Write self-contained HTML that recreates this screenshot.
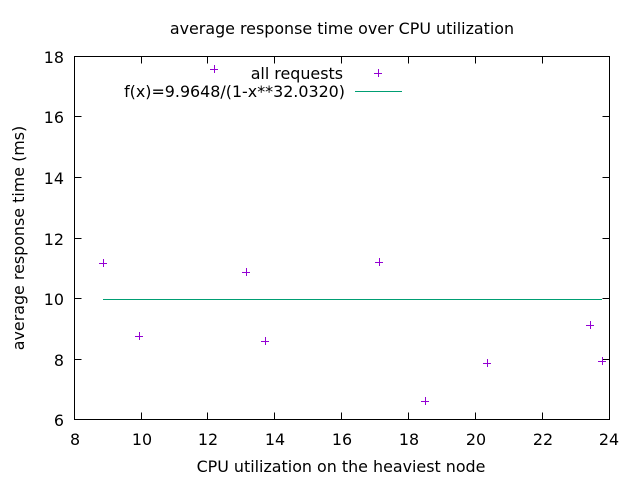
<!DOCTYPE html>
<html><head><meta charset="utf-8"><style>
html,body{margin:0;padding:0;background:#fff;}
svg{display:block;}
text{font-family:"DejaVu Sans","Liberation Sans",sans-serif;font-size:15.9px;fill:#000;}
</style></head><body>
<svg width="640" height="480" viewBox="0 0 640 480" xmlns="http://www.w3.org/2000/svg">
<rect width="640" height="480" fill="#fff"/>
<g stroke="#000" stroke-width="1" fill="none" shape-rendering="crispEdges">
<path d="M74.5,56.5h7M609.5,56.5h-7 M74.5,116.5h7M609.5,116.5h-7 M74.5,177.5h7M609.5,177.5h-7 M74.5,238.5h7M609.5,238.5h-7 M74.5,298.5h7M609.5,298.5h-7 M74.5,359.5h7M609.5,359.5h-7"/>
<path d="M141.5,419.5v-7M141.5,56.5v7 M207.5,419.5v-7M207.5,56.5v7 M274.5,419.5v-7M274.5,56.5v7 M341.5,419.5v-7M341.5,56.5v7 M408.5,419.5v-7M408.5,56.5v7 M475.5,419.5v-7M475.5,56.5v7 M542.5,419.5v-7M542.5,56.5v7"/>
<rect x="74.5" y="56.5" width="535" height="363"/>
</g>
<g text-anchor="end">
<text x="64" y="63">18</text>
<text x="64" y="123">16</text>
<text x="64" y="184">14</text>
<text x="64" y="245">12</text>
<text x="64" y="305">10</text>
<text x="64" y="366">8</text>
<text x="64" y="426">6</text>
</g>
<g text-anchor="middle">
<text x="75" y="445">8</text>
<text x="142" y="445">10</text>
<text x="208" y="445">12</text>
<text x="275" y="445">14</text>
<text x="342" y="445">16</text>
<text x="409" y="445">18</text>
<text x="476" y="445">20</text>
<text x="543" y="445">22</text>
<text x="609" y="445">24</text>
</g>
<text x="342" y="34" text-anchor="middle">average response time over CPU utilization</text>
<text x="341" y="472" text-anchor="middle">CPU utilization on the heaviest node</text>
<text transform="translate(24,238) rotate(-90)" text-anchor="middle">average response time (ms)</text>
<text x="343" y="79" text-anchor="end">all requests</text>
<text x="345" y="97" text-anchor="end">f(x)=9.9648/(1-x**32.0320)</text>
<g shape-rendering="crispEdges" stroke="#009e73" stroke-width="1">
<line x1="355" y1="91.5" x2="402" y2="91.5"/>
<line x1="103" y1="299.5" x2="602" y2="299.5"/>
</g>
<g stroke="#9400d3" stroke-width="1" fill="none" shape-rendering="crispEdges">
<path d="M374,73.5h8M378.5,69v8"/>
<path d="M99,263.5h8M103.5,259v8"/>
<path d="M135,336.5h8M139.5,332v8"/>
<path d="M210,69.5h8M214.5,65v8"/>
<path d="M242,272.5h8M246.5,268v8"/>
<path d="M261,341.5h8M265.5,337v8"/>
<path d="M375,262.5h8M379.5,258v8"/>
<path d="M421,401.5h8M425.5,397v8"/>
<path d="M483,363.5h8M487.5,359v8"/>
<path d="M586,325.5h8M590.5,321v8"/>
<path d="M598,361.5h8M602.5,357v8"/>
</g>
</svg>
</body></html>
